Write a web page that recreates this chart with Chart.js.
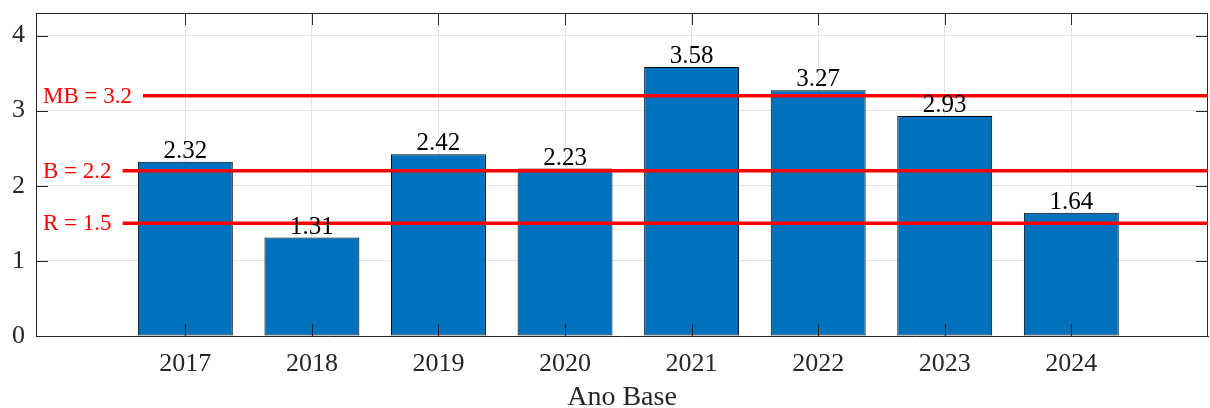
<!DOCTYPE html>
<html>
<head>
<meta charset="utf-8">
<script src="https://cdn.jsdelivr.net/npm/chart.js@4.4.1/dist/chart.umd.min.js"></script>
<style>
  body { margin: 0; background: #ffffff; }
  #wrap { width: 1210px; height: 408px; position: relative; }
</style>
</head>
<body>
<div id="wrap"><canvas id="barChart"></canvas></div>
<script>
const years = [2017, 2018, 2019, 2020, 2021, 2022, 2023, 2024];
const values = [2.32, 1.31, 2.42, 2.23, 3.58, 3.27, 2.93, 1.64];
const yTicks = [0, 1, 2, 3, 4];
const refValues = [3.2, 2.2, 1.5];
const refLabels = ["MB = 3.2", "B = 2.2", "R = 1.5"];

const serif = "'Liberation Serif', 'Times New Roman', serif";
const axisColor = "#262626";

// ticks inside the box on all four sides, like the original figure
const boxPlugin = {
    id: "boxTicks",
    afterDatasetsDraw(chart){
        const { ctx, chartArea: a, scales } = chart;
        ctx.save();
        ctx.strokeStyle = axisColor;
        ctx.lineWidth = 1;
        ctx.beginPath();
        ctx.moveTo(a.left, a.top + 0.5);
        ctx.lineTo(a.right, a.top + 0.5);
        ctx.moveTo(a.right - 0.5, a.top);
        ctx.lineTo(a.right - 0.5, a.bottom);
        yTicks.forEach(v => {
            const y = Math.round(scales.y.getPixelForValue(v)) + 0.5;
            ctx.moveTo(a.left, y);
            ctx.lineTo(a.left + 12, y);
            ctx.moveTo(a.right, y);
            ctx.lineTo(a.right - 12, y);
        });
        years.forEach(v => {
            const x = Math.round(scales.x.getPixelForValue(v)) + 0.5;
            ctx.moveTo(x, a.bottom);
            ctx.lineTo(x, a.bottom - 12);
            ctx.moveTo(x, a.top);
            ctx.lineTo(x, a.top + 12);
        });
        ctx.stroke();
        ctx.restore();
    }
};

// reference lines with their red labels
const refPlugin = {
    id: "refLines",
    afterDatasetsDraw(chart){
        const { ctx, chartArea: a, scales } = chart;
        ctx.save();
        ctx.font = "23px " + serif;
        ctx.textBaseline = "middle";
        ctx.textAlign = "left";
        refValues.forEach((v, i) => {
            const y = scales.y.getPixelForValue(v);
            const tx = a.left + 7;
            const w = ctx.measureText(refLabels[i]).width;
            ctx.fillStyle = "#ff0000";
            ctx.fillText(refLabels[i], tx, y + 1);
            ctx.strokeStyle = "#ff0000";
            ctx.lineWidth = 3.5;
            ctx.beginPath();
            ctx.moveTo(tx + w + 11, y);
            ctx.lineTo(a.right, y);
            ctx.stroke();
        });
        ctx.restore();
    }
};

// numbers above the bars
const valuePlugin = {
    id: "barValues",
    afterDatasetsDraw(chart){
        const { ctx } = chart;
        const meta = chart.getDatasetMeta(0);
        ctx.save();
        ctx.font = "25px " + serif;
        ctx.fillStyle = "#000000";
        ctx.textAlign = "center";
        ctx.textBaseline = "bottom";
        meta.data.forEach((bar, i) => {
            ctx.fillText(values[i].toFixed(2), bar.x, bar.y + 2);
        });
        ctx.restore();
    }
};

const ctx = document.getElementById("barChart");

new Chart(ctx, {
    type: "bar",
    data: {
        datasets: [
            {
                data: years.map((y, i) => ({ x: y, y: values[i] })),
                backgroundColor: "#0072BD",
                borderColor: "#000000",
                borderWidth: 1,
                borderSkipped: false,
                barPercentage: 0.75,
                categoryPercentage: 1.0
            }
        ]
    },
    options: {
        responsive: true,
        maintainAspectRatio: false,
        animation: false,
        layout: {
            padding: { top: 13, right: 2, left: 0, bottom: 0 }
        },
        plugins: {
            legend: { display: false },
            tooltip: { enabled: false }
        },
        scales: {
            x: {
                type: "linear",
                offset: false,
                min: 2015.82,
                max: 2025.08,
                afterBuildTicks(scale){
                    scale.ticks = years.map(v => ({ value: v }));
                },
                afterFit(scale){
                    scale.height = 72;
                    scale.paddingLeft = 0;
                    scale.paddingRight = 0;
                },
                grid: {
                    color: "#e3e3e3",
                    offset: false,
                    drawTicks: false
                },
                border: { color: axisColor, width: 1 },
                ticks: {
                    color: axisColor,
                    padding: 13,
                    font: { family: serif, size: 26 },
                    callback: v => String(v),
                    maxRotation: 0
                },
                title: {
                    display: true,
                    text: "Ano Base",
                    color: axisColor,
                    font: { family: serif, size: 28, lineHeight: 1 },
                    padding: { top: 0, bottom: -4 }
                }
            },
            y: {
                min: 0,
                max: 4.3,
                afterBuildTicks(scale){
                    scale.ticks = yTicks.map(v => ({ value: v }));
                },
                afterFit(scale){
                    scale.width = 36;
                    scale.paddingTop = 0;
                    scale.paddingBottom = 0;
                },
                grid: {
                    color: "#e3e3e3",
                    drawTicks: false
                },
                border: { color: axisColor, width: 1 },
                ticks: {
                    color: axisColor,
                    padding: 11,
                    font: { family: serif, size: 26 }
                }
            }
        }
    },
    plugins: [boxPlugin, refPlugin, valuePlugin]
});
</script>
</body>
</html>
